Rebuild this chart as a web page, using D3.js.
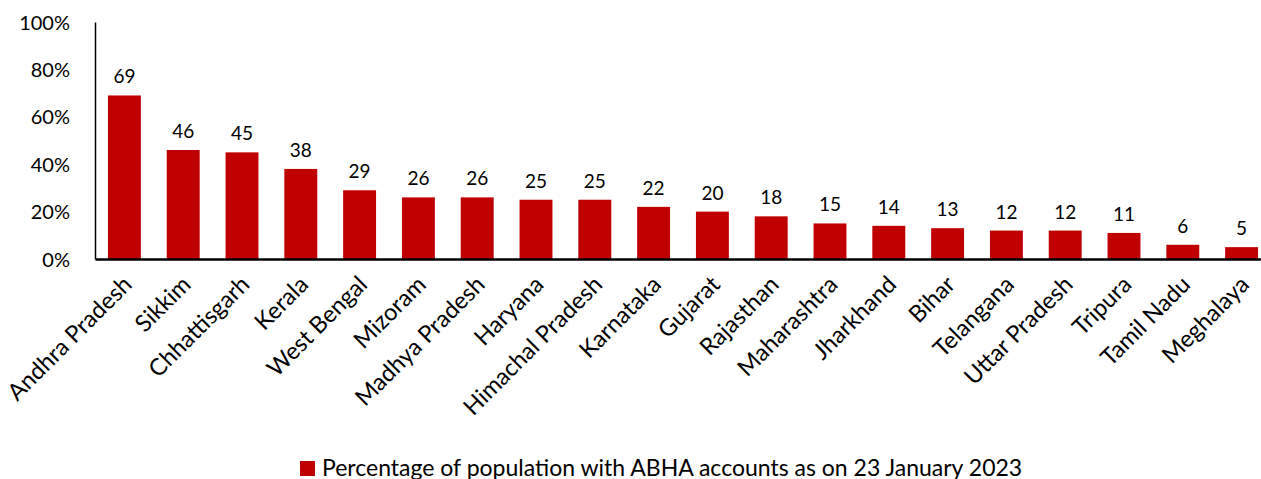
<!DOCTYPE html>
<html>
<head>
<meta charset="utf-8">
<script src="https://cdn.jsdelivr.net/npm/d3@7"></script>
<style>
  body { margin: 0; background: #fff; }
  text { font-family: Lato, "Open Sans", sans-serif; fill: #000; }
</style>
</head>
<body>
<div id="chart"></div>
<script>
var states = ["Andhra Pradesh", "Sikkim", "Chhattisgarh", "Kerala", "West Bengal", "Mizoram",
  "Madhya Pradesh", "Haryana", "Himachal Pradesh", "Karnataka", "Gujarat", "Rajasthan",
  "Maharashtra", "Jharkhand", "Bihar", "Telangana", "Uttar Pradesh", "Tripura", "Tamil Nadu", "Meghalaya"];
var shares = [69, 46, 45, 38, 29, 26, 26, 25, 25, 22, 20, 18, 15, 14, 13, 12, 12, 11, 6, 5];
var yTicks = [0, 20, 40, 60, 80, 100];
var legendLabel = "Percentage of population with ABHA accounts as on 23 January 2023";

var width = 1261, height = 479;
var plotLeft = 95, plotRight = 1271, plotTop = 22, plotBottom = 259;

var svg = d3.select("#chart").append("svg")
    .attr("width", width)
    .attr("height", height);

var x = d3.scaleBand()
    .domain(states)
    .range([plotLeft, plotRight])
    .paddingInner(0.44)
    .paddingOuter(0.22);

var y = d3.scaleLinear()
    .domain([0, 100])
    .range([plotBottom, plotTop]);

// bars
svg.selectAll("rect.bar")
    .data(shares)
    .enter()
    .append("rect")
    .attr("class", "bar")
    .attr("x", (d, i) => x(states[i]))
    .attr("y", d => y(d))
    .attr("width", x.bandwidth())
    .attr("height", d => y(0) - y(d))
    .attr("fill", "#c00000");

// value labels
svg.selectAll("text.val")
    .data(shares)
    .enter()
    .append("text")
    .attr("class", "val")
    .attr("x", (d, i) => x(states[i]) + x.bandwidth() / 2)
    .attr("y", d => y(d) - 12)
    .attr("text-anchor", "middle")
    .style("font-size", "19px")
    .text(d => d);

// y axis
var yAxis = svg.append("g")
    .attr("transform", "translate(" + plotLeft + ",0)")
    .call(d3.axisLeft(y).tickValues(yTicks).tickSize(0).tickPadding(25).tickFormat(d => d + "%"));
yAxis.select(".domain").attr("stroke", "#000").attr("stroke-width", 1.5);
yAxis.selectAll("text").style("font-size", "20px").attr("dy", "0.35em");

// x axis
var xAxis = svg.append("g")
    .attr("transform", "translate(0," + plotBottom + ")")
    .call(d3.axisBottom(x).tickSize(0).tickPadding(0));
xAxis.select(".domain").attr("stroke", "#000").attr("stroke-width", 2.5);
xAxis.selectAll("text")
    .style("font-size", "23.5px")
    .attr("text-anchor", "end")
    .attr("dy", 0)
    .attr("transform", "translate(9,27) rotate(-45)");

// legend
var legend = svg.append("g").attr("transform", "translate(300,461)");
legend.append("rect")
    .attr("width", 15)
    .attr("height", 15)
    .attr("fill", "#c00000");
legend.append("text")
    .attr("x", 22)
    .attr("y", 15)
    .style("font-size", "23px")
    .text(legendLabel);
</script>
</body>
</html>
